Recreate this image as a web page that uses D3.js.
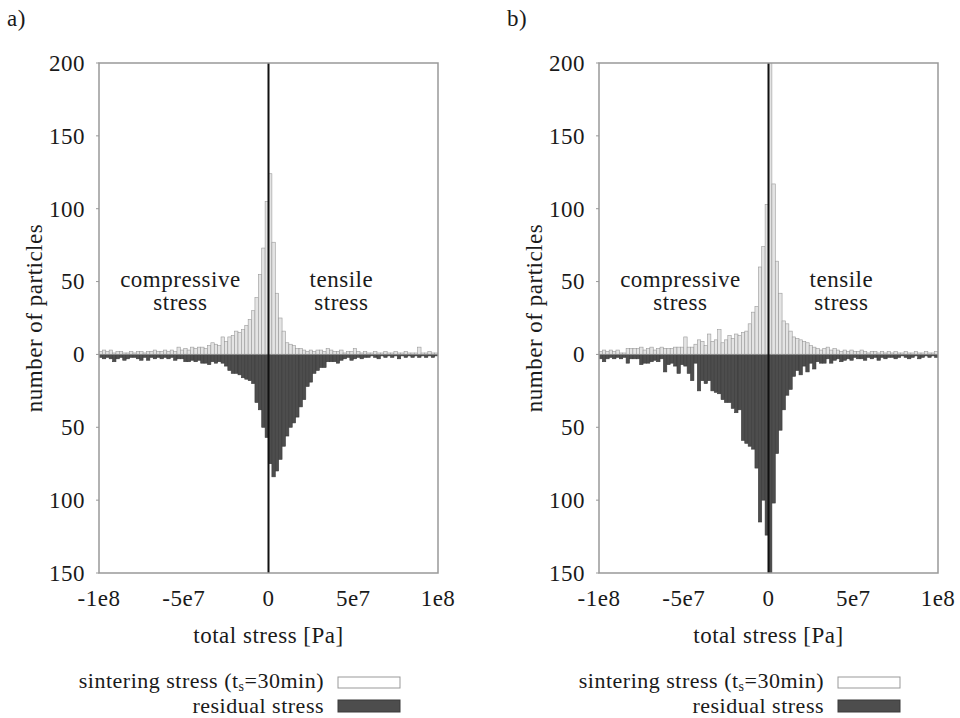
<!DOCTYPE html>
<html><head><meta charset="utf-8">
<script src="https://cdn.jsdelivr.net/npm/d3@7/dist/d3.min.js"></script>
<style>body{margin:0;background:#fff}</style>
</head><body><svg id="c" width="960" height="718" font-family="Liberation Serif, Times New Roman, serif"></svg>
<script>
// bins: 100 bins of width 2e6 from -1e8 to 1e8 (bin i from -50..49)
const binStart = -1e8, binWidth = 2e6;
const sinterA = [2,3,2,3,1,2,2,1,1,2, 1,2,2,1,2,2,3,2,2,3,
  2,3,2,5,3,4,3,5,4,5, 5,4,6,8,7,6,12,9,12,13,
  16,15,17,20,24,30,39,55,73,105,
  124,77,42,25,16,8,7,6,4,4, 3,2,3,2,3,3,2,4,3,2,
  2,3,1,2,2,4,2,1,2,1, 1,2,1,1,2,1,1,2,1,1,
  2,1,1,1,5,1,1,2,1,1];
const residA = [2,3,2,3,5,3,2,4,3,2, 2,3,4,2,4,2,3,2,3,2,
  3,2,4,3,3,5,5,4,5,4, 6,6,7,5,6,5,6,8,11,13,
  13,14,16,17,18,20,33,38,50,57,
  75,84,80,72,63,56,50,47,43,36, 31,22,19,13,11,9,9,5,5,5,
  6,4,3,2,4,3,2,3,2,2, 1,2,3,1,2,1,2,1,3,1,
  2,1,2,1,2,1,2,1,2,1];
const sinterB = [2,3,2,3,2,3,1,1,4,4, 4,4,5,3,4,5,3,4,5,4,
  4,4,5,5,5,12,5,5,7,10, 9,6,14,9,10,17,8,10,13,11,
  14,13,15,16,21,29,33,60,74,103,
  260,117,64,42,23,21,16,12,11,10, 9,8,6,5,4,3,4,5,3,4,
  3,2,3,2,3,2,2,3,2,1, 2,2,1,2,1,2,1,2,1,1,
  2,1,1,2,1,1,2,1,1,2];
const residB = [3,5,3,2,3,2,3,2,6,3, 3,3,7,6,6,5,4,5,3,12,
  7,6,8,13,7,8,13,18,6,25, 18,20,18,25,26,27,31,33,33,37,
  40,38,59,61,63,65,78,115,100,124,
  170,102,68,52,38,28,24,15,11,14, 8,12,6,10,5,6,6,3,6,4,
  3,5,4,3,4,2,3,3,4,2, 3,2,4,2,3,2,2,3,2,1,
  2,3,2,1,3,2,1,2,1,2];
const yTicks = [200,150,100,50,0,-50,-100,-150];
const xTicks = [-1e8,-5e7,0,5e7,1e8];
const xTickLabels = ["-1e8","-5e7","0","5e7","1e8"];
const panels = [
  {label:"a)", sinter:sinterA, resid:residA, left:99},
  {label:"b)", sinter:sinterB, resid:residB, left:599}
];

const svg = d3.select("#c");
const W = 339, plotTop = 63, plotBottom = 573;
const fs = 23, ls = "0.5px", tc = "#1a1a1a";

function txt(g, x, y, s, anchor, size) {
  return g.append("text").attr("x",x).attr("y",y).attr("font-size",size||fs)
    .attr("letter-spacing",ls).attr("fill",tc).attr("text-anchor",anchor||"middle").text(s);
}

panels.forEach((p, pi) => {
  const g = svg.append("g");
  const x = d3.scaleLinear().domain([-1e8,1e8]).range([p.left, p.left+W]);
  const y = d3.scaleLinear().domain([-150,200]).range([plotBottom, plotTop]);
  const clipId = "clip"+pi;
  svg.append("clipPath").attr("id",clipId).append("rect")
    .attr("x",p.left).attr("y",plotTop).attr("width",W).attr("height",plotBottom-plotTop);
  const bars = g.append("g").attr("clip-path",`url(#${clipId})`);
  const idx = d3.range(p.sinter.length);
  bars.selectAll("rect.r").data(idx).join("rect").attr("class","r")
    .attr("x", i => x(binStart+i*binWidth))
    .attr("width", i => x(binStart+(i+1)*binWidth)-x(binStart+i*binWidth))
    .attr("y", y(0))
    .attr("height", i => y(-p.resid[i]) - y(0))
    .attr("fill","#4d4d4d").attr("stroke","#3a3a3a").attr("stroke-width",0.6);
  bars.selectAll("rect.s").data(idx).join("rect").attr("class","s")
    .attr("x", i => x(binStart+i*binWidth))
    .attr("width", i => x(binStart+(i+1)*binWidth)-x(binStart+i*binWidth))
    .attr("y", i => y(p.sinter[i]))
    .attr("height", i => y(0) - y(p.sinter[i]))
    .attr("fill","#e4e4e4").attr("stroke","#9a9a9a").attr("stroke-width",0.6);
  bars.append("line").attr("x1",p.left).attr("x2",p.left+W).attr("y1",y(0)).attr("y2",y(0))
    .attr("stroke","#888").attr("stroke-width",1);
  bars.append("line").attr("x1",x(0)).attr("x2",x(0)).attr("y1",plotTop).attr("y2",plotBottom)
    .attr("stroke","#111").attr("stroke-width",2);
  g.append("rect").attr("x",p.left).attr("y",plotTop).attr("width",W).attr("height",plotBottom-plotTop)
    .attr("fill","none").attr("stroke","#999").attr("stroke-width",1.5);
  yTicks.forEach(t => {
    g.append("line").attr("x1",p.left-3).attr("x2",p.left).attr("y1",y(t)).attr("y2",y(t))
      .attr("stroke","#999").attr("stroke-width",1);
    txt(g, p.left-14, y(t), Math.abs(t), "end").attr("dy","0.34em");
  });
  xTicks.forEach((t,i) => txt(g, x(t), 606, xTickLabels[i]));
  txt(g, x(0), 643, "total stress [Pa]");
  g.append("text").attr("transform",`translate(${p.left-57},${(plotTop+plotBottom)/2}) rotate(-90)`)
    .attr("text-anchor","middle").attr("font-size",fs).attr("letter-spacing",ls).attr("fill",tc)
    .text("number of particles");
  txt(g, p.left-92, 26, p.label, "start");
  const cx = x(-5.2e7), tx = x(4.3e7);
  txt(g, cx, 287, "compressive");
  txt(g, cx, 310, "stress");
  txt(g, tx, 287, "tensile");
  txt(g, tx, 310, "stress");
  const lx = p.left+239;
  const t1 = txt(g, lx-14, 688, "", "end", 22);
  t1.append("tspan").text("sintering stress (t");
  t1.append("tspan").attr("font-size",14).attr("dy",3).text("s");
  t1.append("tspan").attr("dy",-3).text("=30min)");
  g.append("rect").attr("x",lx).attr("y",677).attr("width",62).attr("height",11)
    .attr("fill","#fff").attr("stroke","#999").attr("stroke-width",1);
  txt(g, lx-14, 713, "residual stress", "end", 22);
  g.append("rect").attr("x",lx).attr("y",700).attr("width",62).attr("height",12)
    .attr("fill","#4d4d4d").attr("stroke","#3a3a3a").attr("stroke-width",1);
});
</script></body></html>
